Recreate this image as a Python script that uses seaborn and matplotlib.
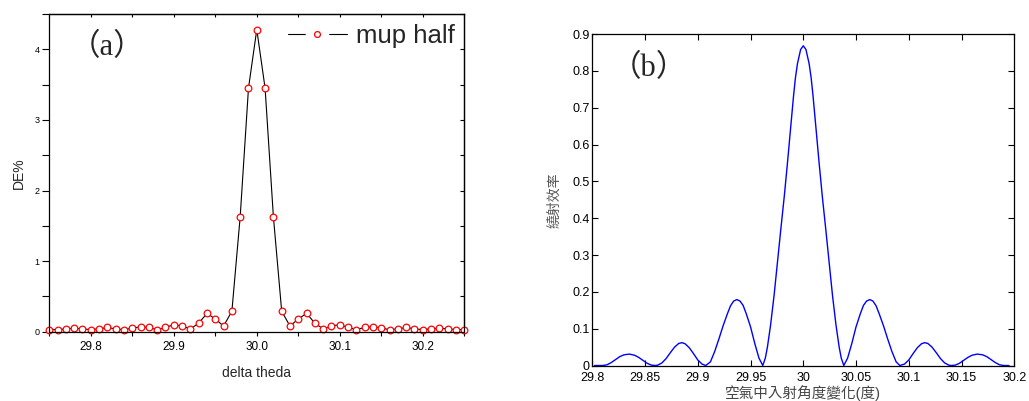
import matplotlib
matplotlib.use("Agg")
import matplotlib.pyplot as plt
from matplotlib.lines import Line2D
from matplotlib.legend_handler import HandlerTuple
from matplotlib.ticker import FixedLocator, MultipleLocator
import pandas as pd
import seaborn as sns

# ---------------- data: panel (a) ----------------
theta_a = [29.75, 29.76, 29.77, 29.78, 29.79, 29.80, 29.81, 29.82, 29.83, 29.84,
           29.85, 29.86, 29.87, 29.88, 29.89, 29.90, 29.91, 29.92, 29.93, 29.94,
           29.95, 29.96, 29.97, 29.98, 29.99, 30.00, 30.01, 30.02, 30.03, 30.04,
           30.05, 30.06, 30.07, 30.08, 30.09, 30.10, 30.11, 30.12, 30.13, 30.14,
           30.15, 30.16, 30.17, 30.18, 30.19, 30.20, 30.21, 30.22, 30.23, 30.24,
           30.25]
de_a = [0.03, 0.03, 0.04, 0.05, 0.04, 0.03, 0.04, 0.06, 0.04, 0.03,
        0.05, 0.07, 0.06, 0.03, 0.06, 0.10, 0.08, 0.04, 0.12, 0.26,
        0.18, 0.08, 0.29, 1.63, 3.45, 4.28, 3.45, 1.63, 0.29, 0.08,
        0.18, 0.26, 0.12, 0.04, 0.08, 0.10, 0.06, 0.03, 0.06, 0.07,
        0.05, 0.03, 0.04, 0.06, 0.04, 0.03, 0.04, 0.05, 0.04, 0.03,
        0.03]
xticks_a = [29.8, 29.9, 30.0, 30.1, 30.2]
xticklabels_a = ["29.8", "29.9", "30.0", "30.1", "30.2"]
yticks_a = [0, 1, 2, 3, 4]
yticklabels_a = ["0", "1", "2", "3", "4"]
legend_label = "mup half"

# ---------------- data: panel (b) ----------------
theta_b = [29.802, 29.810, 29.814, 29.818, 29.822, 29.826, 29.830, 29.835, 29.840,
           29.844, 29.848, 29.852, 29.856, 29.860, 29.862, 29.866, 29.870, 29.874,
           29.878, 29.882, 29.885, 29.888, 29.892, 29.896, 29.900, 29.904, 29.9075,
           29.912, 29.916, 29.920, 29.924, 29.928, 29.931, 29.934, 29.937, 29.940,
           29.943, 29.946, 29.950, 29.954, 29.958, 29.9616,
           29.964, 29.966, 29.969, 29.9723, 29.9755,
           29.9787, 29.982, 29.985, 29.988, 29.9907, 29.9925, 29.9945, 29.9975,
           30.000,
           30.0025, 30.0055, 30.0075, 30.0093, 30.012, 30.015, 30.018, 30.0213,
           30.0245, 30.0277, 30.031, 30.034, 30.036, 30.0384,
           30.042, 30.046, 30.050, 30.054, 30.057, 30.060, 30.063, 30.066, 30.069,
           30.072, 30.076, 30.080, 30.084, 30.088, 30.0915,
           30.096, 30.100, 30.104, 30.108, 30.112, 30.115, 30.118,
           30.122, 30.126, 30.130, 30.134, 30.138, 30.140, 30.144, 30.148, 30.152,
           30.156, 30.160, 30.165, 30.170, 30.174, 30.178, 30.182, 30.186, 30.190,
           30.195]
eff_b = [0.0, 0.0, 0.002, 0.008, 0.016, 0.024, 0.029, 0.031, 0.028,
         0.022, 0.014, 0.006, 0.001, 0.0, 0.001, 0.007, 0.019, 0.035,
         0.050, 0.060, 0.062, 0.059, 0.048, 0.032, 0.015, 0.004, 0.0,
         0.010, 0.038, 0.072, 0.108, 0.140, 0.162, 0.175, 0.179, 0.175,
         0.163, 0.140, 0.105, 0.060, 0.020, 0.0,
         0.020, 0.050, 0.110, 0.190, 0.280,
         0.370, 0.460, 0.550, 0.645, 0.730, 0.780, 0.820, 0.858,
         0.868,
         0.858, 0.820, 0.780, 0.730, 0.645, 0.550, 0.460, 0.370,
         0.280, 0.190, 0.110, 0.050, 0.020, 0.0,
         0.020, 0.060, 0.105, 0.140, 0.163, 0.175, 0.179, 0.175, 0.162,
         0.140, 0.108, 0.072, 0.038, 0.010, 0.0,
         0.004, 0.015, 0.032, 0.048, 0.059, 0.062, 0.060,
         0.050, 0.035, 0.019, 0.007, 0.001, 0.0, 0.001, 0.006, 0.014,
         0.022, 0.028, 0.031, 0.029, 0.024, 0.016, 0.008, 0.002, 0.0,
         0.0]
xticks_b = [29.8, 29.85, 29.9, 29.95, 30.0, 30.05, 30.1, 30.15, 30.2]
xticklabels_b = ["29.8", "29.85", "29.9", "29.95", "30", "30.05", "30.1", "30.15", "30.2"]
yticks_b = [0, 0.1, 0.2, 0.3, 0.4, 0.5, 0.6, 0.7, 0.8, 0.9]
yticklabels_b = ["0", "0.1", "0.2", "0.3", "0.4", "0.5", "0.6", "0.7", "0.8", "0.9"]
xlabel_b = "空氣中入射角度變化(度)"
ylabel_b = "繞射效率"

# ---------------- style ----------------
sns.set_style("ticks")
plt.rcParams["font.family"] = ["Liberation Sans", "Noto Sans CJK TC", "DejaVu Sans"]
plt.rcParams["axes.linewidth"] = 0.9
plt.rcParams["xtick.color"] = "black"
plt.rcParams["ytick.color"] = "black"

fig = plt.figure(figsize=(10.29, 4.01), dpi=100)

# ---------------- panel (a) ----------------
ax1 = fig.add_axes([0.0479, 0.1728, 0.4033, 0.7923])
df_a = pd.DataFrame({"theta": theta_a, "de": de_a})
sns.lineplot(data=df_a, x="theta", y="de", ax=ax1, color="black", linewidth=0.8,
             marker="o", markersize=4.8, markeredgecolor="red",
             markerfacecolor="white", markeredgewidth=0.9, clip_on=False)
for ln in ax1.lines:
    ln.set_markerfacecolor("white")
    ln.set_markeredgecolor("red")
ax1.set_xlim(29.75, 30.25)
ax1.set_ylim(0, 4.5)
ax1.xaxis.set_major_locator(FixedLocator(xticks_a))
ax1.set_xticklabels(xticklabels_a)
ax1.xaxis.set_minor_locator(MultipleLocator(0.05))
ax1.yaxis.set_major_locator(FixedLocator(yticks_a))
ax1.set_yticklabels(yticklabels_a)
ax1.yaxis.set_minor_locator(MultipleLocator(0.5))
ax1.tick_params(axis="x", which="both", direction="out", length=3, width=0.8,
                labelsize=8.5, pad=4)
ax1.tick_params(axis="y", which="both", direction="out", length=5, width=0.8,
                labelsize=6.5, pad=2)
ax1.set_xlabel("delta theda", fontsize=10, labelpad=9)
ax1.set_ylabel("DE%", fontsize=10, labelpad=6)
for s in ax1.spines.values():
    s.set_visible(True)
    s.set_color("black")

top_a = ax1.secondary_xaxis("top")
top_a.xaxis.set_major_locator(MultipleLocator(0.05))
top_a.tick_params(direction="in", length=2.5, width=0.8, labeltop=False)
right_a = ax1.secondary_yaxis("right")
right_a.yaxis.set_major_locator(MultipleLocator(0.5))
right_a.tick_params(direction="in", length=3, width=0.8, labelright=False)

ax1.text(0.14, 0.893, "（a）", transform=ax1.transAxes, fontsize=22,
         family=["Liberation Serif", "Noto Sans CJK TC"], ha="center", va="center")

h_line = Line2D([], [], color="black", linewidth=0.8)
h_gap = Line2D([], [], linestyle="none", marker="o", markersize=16,
               markerfacecolor="white", markeredgecolor="white")
h_mark = Line2D([], [], linestyle="none", marker="o", markersize=4.2,
                markerfacecolor="white", markeredgecolor="red", markeredgewidth=0.9)
leg = ax1.legend([(h_line, h_gap, h_mark)], [legend_label],
                 handler_map={tuple: HandlerTuple(ndivide=1, pad=0)},
                 loc="upper right", bbox_to_anchor=(1.0, 1.0), borderaxespad=0.15,
                 fontsize=18.5, numpoints=1, handlelength=2.3, handletextpad=0.35,
                 borderpad=0.22, frameon=True, fancybox=False, framealpha=1,
                 facecolor="white", edgecolor="none")
leg.set_zorder(10)

# ---------------- panel (b) ----------------
ax2 = fig.add_axes([0.5756, 0.0885, 0.4101, 0.8267])
df_b = pd.DataFrame({"theta": theta_b, "eff": eff_b})
sns.lineplot(data=df_b, x="theta", y="eff", ax=ax2, color="#0000ff", linewidth=1.0,
             sort=False)
ax2.set_xlim(29.8, 30.2)
ax2.set_ylim(0, 0.9)
ax2.xaxis.set_major_locator(FixedLocator(xticks_b))
ax2.set_xticklabels(xticklabels_b)
ax2.yaxis.set_major_locator(FixedLocator(yticks_b))
ax2.set_yticklabels(yticklabels_b)
ax2.tick_params(axis="both", which="major", direction="in", length=4, width=0.8,
                top=True, right=True, labelsize=9, pad=2)
ax2.tick_params(axis="x", pad=5)
ax2.set_xlabel(xlabel_b, fontsize=10.5, color="#444444", labelpad=0.5)
ax2.set_ylabel(ylabel_b, fontsize=10, color="#555555", labelpad=8)
for s in ax2.spines.values():
    s.set_visible(True)
    s.set_color("black")
ax2.text(0.134, 0.897, "（b）", transform=ax2.transAxes, fontsize=22,
         family=["Liberation Serif", "Noto Sans CJK TC"], ha="center", va="center")

fig.savefig("out.png", dpi=100, facecolor="white")
